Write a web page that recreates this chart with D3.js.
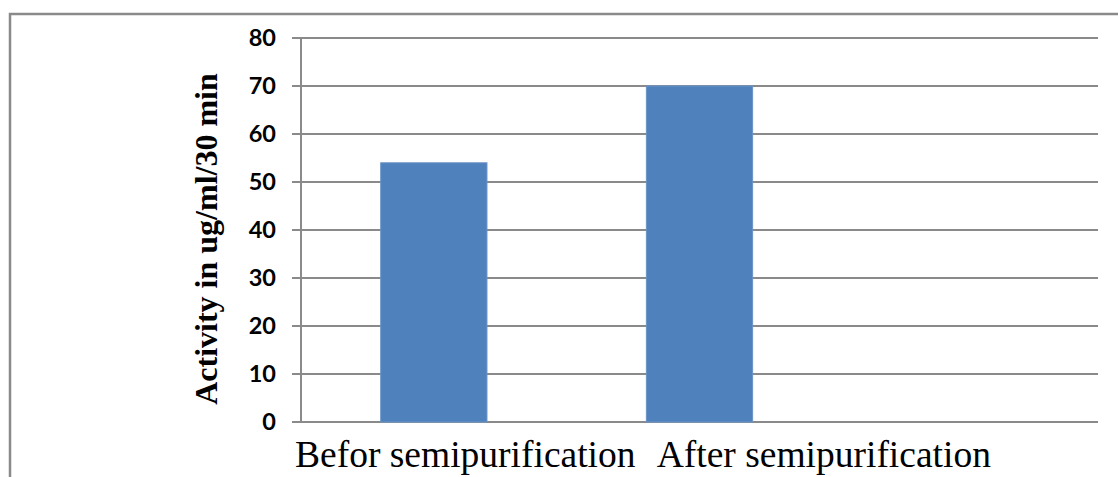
<!DOCTYPE html>
<html>
<head>
<meta charset="utf-8">
<script src="https://cdn.jsdelivr.net/npm/d3@7"></script>
<style>
  html, body { margin: 0; padding: 0; background: #ffffff; }
  svg { display: block; }
</style>
</head>
<body>
<script>
// ---- data ----
const categories = ["Befor semipurification", "After semipurification", ""];
const activity = [54, 70, null];
const yTicks = [0, 10, 20, 30, 40, 50, 60, 70, 80];
const yTitle = "Activity in ug/ml/30 min";

// ---- layout ----
const W = 1118, H = 477;
const plot = { left: 301, right: 1098, top: 38, bottom: 422 };

const svg = d3.select("body").append("svg").attr("width", W).attr("height", H);

// outer chart border
svg.append("rect")
  .attr("x", 10).attr("y", 14)
  .attr("width", W + 20).attr("height", H + 20)
  .attr("fill", "none").attr("stroke", "#8a8a8a").attr("stroke-width", 2.5);

const x = d3.scaleBand().domain(categories)
  .range([plot.left, plot.right]).paddingInner(0.6).paddingOuter(0.3);
const y = d3.scaleLinear().domain([0, 80]).range([plot.bottom, plot.top]);
const slot = d3.scaleBand().domain(categories).range([plot.left, plot.right]);

const gridColor = "#8a8a8a";

// gridlines + tick marks
const grid = svg.append("g");
grid.selectAll("line.g").data(yTicks).enter().append("line")
  .attr("x1", plot.left - 9).attr("x2", plot.right)
  .attr("y1", d => y(d)).attr("y2", d => y(d))
  .attr("stroke", gridColor).attr("stroke-width", 2);

// y axis line
svg.append("line")
  .attr("x1", plot.left).attr("x2", plot.left)
  .attr("y1", y(80)).attr("y2", y(0))
  .attr("stroke", gridColor).attr("stroke-width", 2);

// bars
const data = categories.map((c, i) => ({ c, v: activity[i] })).filter(d => d.v != null);
svg.append("g").selectAll("rect").data(data).enter().append("rect")
  .attr("x", d => x(d.c))
  .attr("width", x.bandwidth())
  .attr("y", d => y(d.v))
  .attr("height", d => y(0) - y(d.v))
  .attr("fill", "#4f81bd")
  .attr("stroke", "#6a93c7").attr("stroke-width", 1);

// y tick labels
svg.append("g").selectAll("text").data(yTicks).enter().append("text")
  .attr("x", plot.left - 25)
  .attr("y", d => y(d))
  .attr("dy", "0.36em")
  .attr("text-anchor", "end")
  .attr("font-family", "Lato, 'Liberation Sans', sans-serif")
  .attr("font-weight", "bold")
  .attr("font-size", 23.5)
  .attr("fill", "#000")
  .text(d => d);

// x category labels (rendered flowing from left, as in the original)
const labelStart = [slot(categories[0]) - 6, slot(categories[1]) + 90];
svg.append("g").selectAll("text").data(categories.filter(c => c)).enter().append("text")
  .attr("x", (d, i) => labelStart[i])
  .attr("y", 467)
  .attr("text-anchor", "start")
  .attr("font-family", "'Liberation Serif', 'Times New Roman', serif")
  .attr("font-size", 37.5)
  .attr("fill", "#000")
  .text(d => d);

// y axis title
svg.append("text")
  .attr("transform", `translate(217, ${(plot.top + plot.bottom) / 2 + 9}) rotate(-90)`)
  .attr("text-anchor", "middle")
  .attr("font-family", "'Liberation Serif', 'Times New Roman', serif")
  .attr("font-weight", "bold")
  .attr("font-size", 32)
  .attr("fill", "#000")
  .text(yTitle);
</script>
</body>
</html>
